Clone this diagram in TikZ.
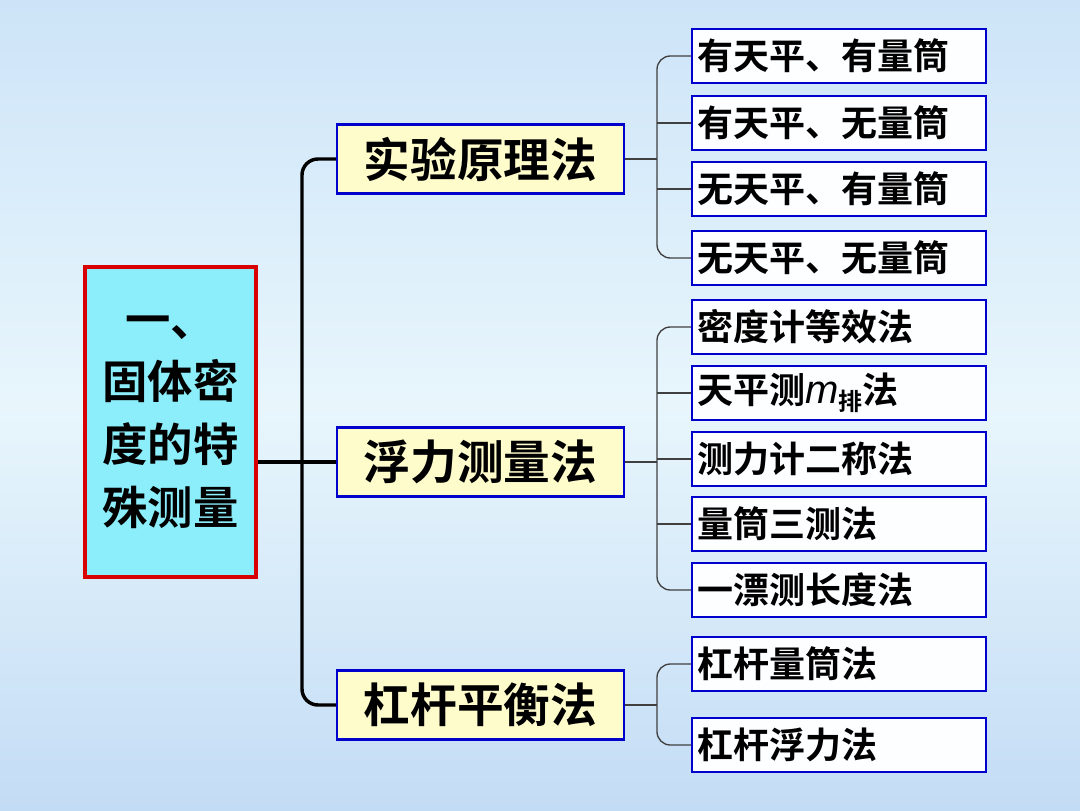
\documentclass[tikz,border=0pt]{standalone}
\usepackage{fontspec}
\setmainfont{Noto Sans CJK SC}[BoldFont={* Bold}]
\newfontfamily\latinsans{Liberation Sans}
\begin{document}
\begin{tikzpicture}[x=0.75pt,y=-0.75pt,
 mainbox/.style={draw=red!85!black,line width=2.6pt,fill={rgb,255:red,140;green,238;blue,250},minimum width=171*0.75pt,minimum height=310*0.75pt,inner sep=0pt,font=\bfseries\fontsize{34}{47}\selectfont,align=center},
 midbox/.style={draw=blue!80!black,line width=1.8pt,fill=yellow!20!white,minimum width=287*0.75pt,minimum height=69*0.75pt,inner sep=0pt,font=\bfseries\fontsize{35}{40}\selectfont},
 leafbox/.style={draw=blue!80!black,line width=1.8pt,fill=white!85!cyan!5,minimum width=294*0.75pt,minimum height=54*0.75pt,inner sep=0pt,text width=284*0.75pt,align=left,font=\bfseries\fontsize{27}{30}\selectfont},
 trunk/.style={line width=2.6pt,rounded corners=12pt},
 br/.style={line width=1pt,draw=black!75,rounded corners=10pt}]
\shade[top color={rgb,255:red,205;green,228;blue,248},bottom color={rgb,255:red,195;green,220;blue,245},middle color={rgb,255:red,232;green,246;blue,252}] (0,0) rectangle (1080,810);
\node[mainbox] (main) at (170.5,422) {一、\\固体密\\度的特\\殊测量};
\node[midbox] (m1) at (480.5,159) {实验原理法};
\node[midbox] (m2) at (480.5,462) {浮力测量法};
\node[midbox] (m3) at (480.5,705) {杠杆平衡法};
\node[leafbox] (r1) at (839,56) {有天平、有量筒};
\node[leafbox] (r2) at (839,123) {有天平、无量筒};
\node[leafbox] (r3) at (839,189) {无天平、有量筒};
\node[leafbox] (r4) at (839,258) {无天平、无量筒};
\node[leafbox] (r5) at (839,327) {密度计等效法};
\node[leafbox] (r6) at (839,393) {天平测{\latinsans\mdseries\itshape\fontsize{30}{30}\selectfont m}\raisebox{-0.35ex}{\fontsize{18}{20}\selectfont 排}法};
\node[leafbox] (r7) at (839,459) {测力计二称法};
\node[leafbox] (r8) at (839,524) {量筒三测法};
\node[leafbox] (r9) at (839,590) {一漂测长度法};
\node[leafbox] (r10) at (839,664) {杠杆量筒法};
\node[leafbox] (r11) at (839,745) {杠杆浮力法};
\coordinate (t) at (302,462);
\draw[trunk] (main.east |- t) -- (m2.west);
\draw[trunk] (m1.west) -| (t) |- (m3.west);
\coordinate (b1) at (657,159);
\coordinate (b2) at (657,462);
\coordinate (b3) at (657,705);
\draw[br] (m1.east) -- (b1);
\draw[br] (r1.west) -| (b1) |- (r4.west);
\draw[br] (r2.west) -- (r2.west -| b1);
\draw[br] (r3.west) -- (r3.west -| b1);
\draw[br] (m2.east) -- (b2);
\draw[br] (r5.west) -| (b2) |- (r9.west);
\draw[br] (r6.west) -- (r6.west -| b2);
\draw[br] (r7.west) -- (r7.west -| b2);
\draw[br] (r8.west) -- (r8.west -| b2);
\draw[br] (m3.east) -- (b3);
\draw[br] (r10.west) -| (b3) |- (r11.west);
\end{tikzpicture}
\end{document}
